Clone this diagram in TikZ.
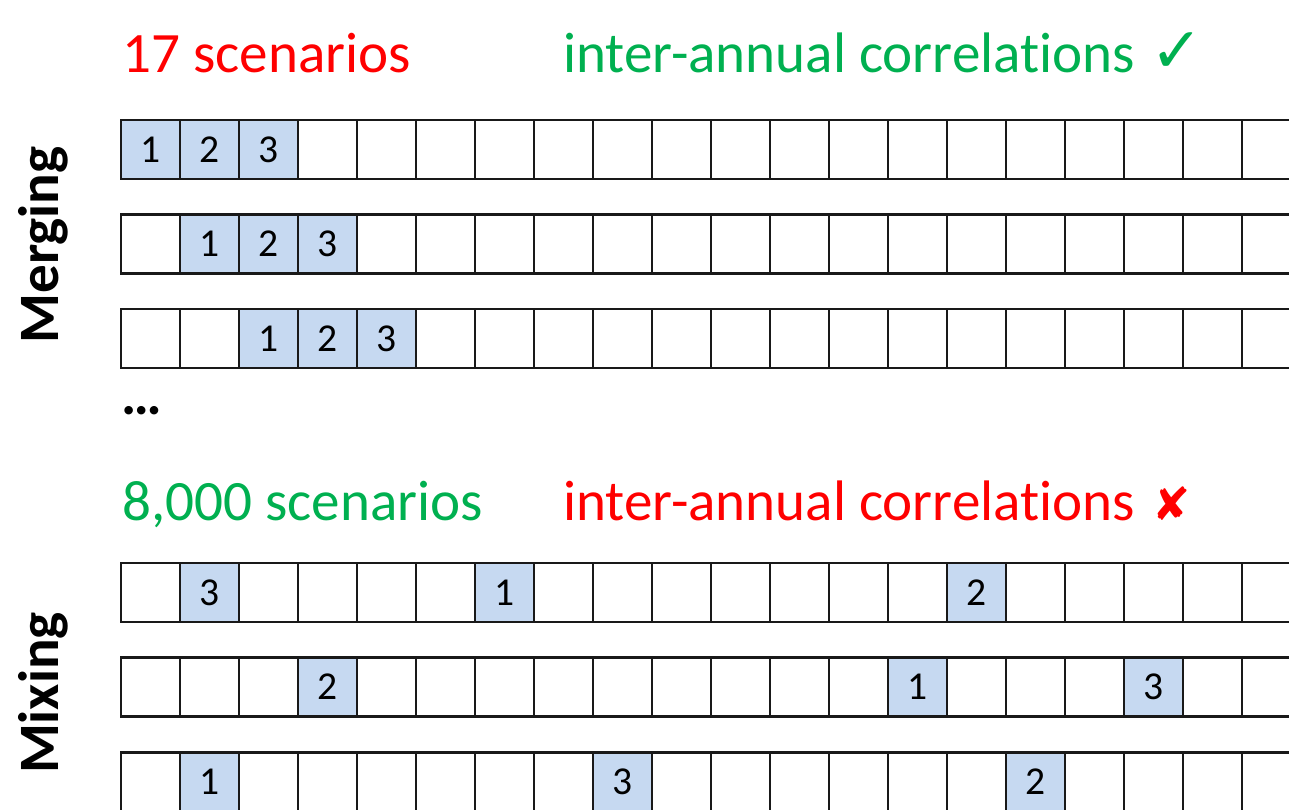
\documentclass[tikz,border=0pt]{standalone}
\usepackage{fontspec}
\setmainfont{Carlito}[RawFeature={-liga;-clig;-calt;-dlig}]
\newfontfamily\symbolfont{DejaVu Sans}
\usetikzlibrary{positioning}
\definecolor{slotblue}{RGB}{198,217,241}
\definecolor{goodgreen}{RGB}{0,176,80}
\definecolor{badred}{RGB}{255,0,0}
\tikzset{
    cell/.style={
        rectangle, draw=black!90, line width=1.2pt,
        minimum width=1.18cm, minimum height=1.18cm, inner sep=0pt
    },
    slot/.style={cell, fill=slotblue, font=\fontsize{22.5}{26}\selectfont},
    heading/.style={anchor=base west, inner sep=0pt, font=\fontsize{32.5}{38}\selectfont},
    sidelabel/.style={rotate=90, anchor=base, inner sep=0pt, font=\bfseries\fontsize{32.5}{38}\selectfont},
    symbolmark/.style={anchor=base west, inner sep=0pt}
}
\begin{document}
\begin{tikzpicture}[x=0.02cm, y=-0.02cm]
    \useasboundingbox (0,0) rectangle (1289,809);
    \clip (0,0) rectangle (1289,809);

    % Merging
    \node (fewcount) [heading, text=badred] at (122,72) {17 scenarios};
    \node (corrgood) [heading, text=goodgreen] at (563,72) {inter-annual correlations};
    \node (tick) [symbolmark, right=0.3cm of corrgood.base east, anchor=base west, text=goodgreen, font=\symbolfont\fontsize{36}{40}\selectfont] {✓};
    \node (merging) [sidelabel] at (58,245) {Merging};
    \foreach \r/\top in {1/120, 2/214.5, 3/309} {
        \foreach \k in {0,...,19}
            \node (merge\r-\k) [cell] at ({150.5+59*\k}, {\top+29.5}) {};
    }
    \foreach \r/\first in {1/0, 2/1, 3/2} {
        \foreach \n [evaluate=\n as \k using int(\first+\n-1)] in {1,2,3}
            \node (mslot\r-\n) [slot] at (merge\r-\k) {\n};
    }
    \node (more) [heading, font=\bfseries\fontsize{32.5}{38}\selectfont] at (121,414) {…};

    % Mixing
    \node (manycount) [heading, text=goodgreen] at (122,520) {8,000 scenarios};
    \node (corrbad) [heading, text=badred] at (563,520) {inter-annual correlations};
    \node (cross) [symbolmark, right=0.34cm of corrbad.base east, anchor=base west, text=badred, font=\symbolfont\fontsize{26}{30}\selectfont] {✘};
    \node (mixing) [sidelabel] at (58,693) {Mixing};
    \foreach \r/\top in {1/563, 2/657.5, 3/752.5} {
        \foreach \k in {0,...,19}
            \node (mix\r-\k) [cell] at ({150.5+59*\k}, {\top+29.5}) {};
    }
    \foreach \r/\k/\n in {1/1/3, 1/6/1, 1/14/2, 2/3/2, 2/13/1, 2/17/3, 3/1/1, 3/8/3, 3/15/2}
        \node (xslot\r-\n) [slot] at (mix\r-\k) {\n};
\end{tikzpicture}
\end{document}
